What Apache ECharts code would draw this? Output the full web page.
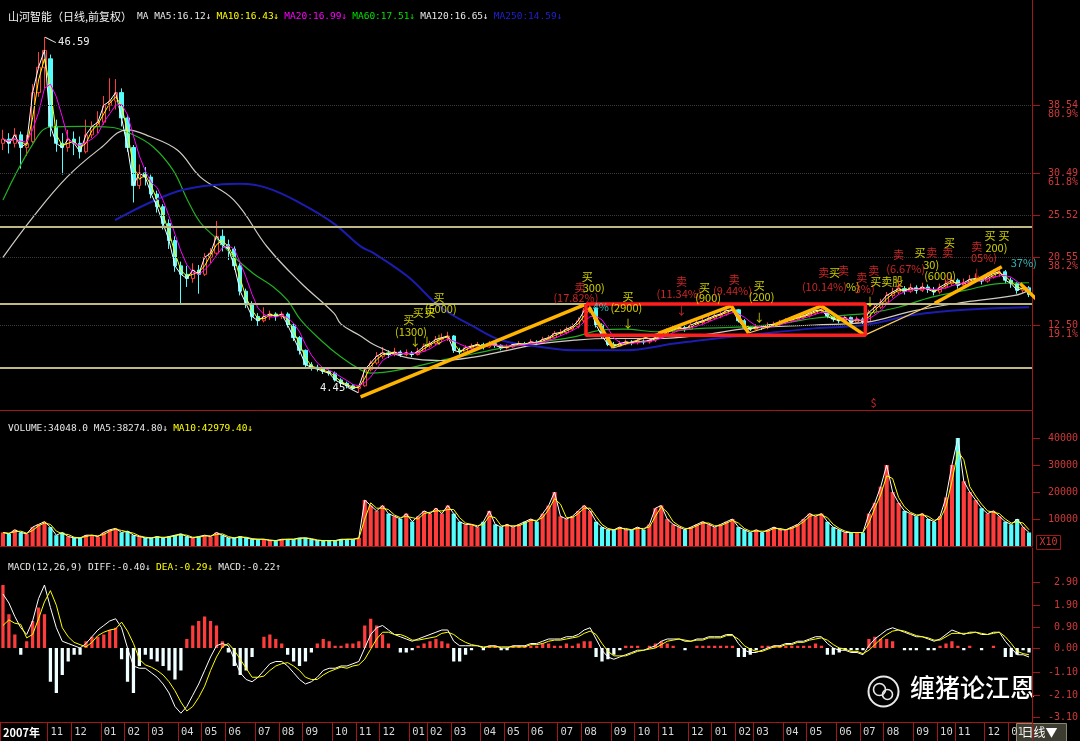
<!DOCTYPE html>
<html>
<head>
<meta charset="utf-8">
<title>山河智能 日线</title>
<script src="https://cdn.jsdelivr.net/npm/echarts@6.0.0/dist/echarts.min.js"></script>
<style>
  html, body { margin: 0; padding: 0; background: #000; }
  #chart { width: 1080px; height: 741px; }
</style>
</head>
<body>
<div id="chart"></div>
<script>
// one candle per trading week (Monday of the week)
const weeks = [
  '2007-09-03','2007-09-10','2007-09-17','2007-09-24',
  '2007-10-08','2007-10-15','2007-10-22','2007-10-29',
  '2007-11-05','2007-11-12','2007-11-19','2007-11-26',
  '2007-12-03','2007-12-10','2007-12-17','2007-12-24','2007-12-31',
  '2008-01-07','2008-01-14','2008-01-21','2008-01-28',
  '2008-02-04','2008-02-11','2008-02-18','2008-02-25',
  '2008-03-03','2008-03-10','2008-03-17','2008-03-24','2008-03-31',
  '2008-04-07','2008-04-14','2008-04-21','2008-04-28',
  '2008-05-05','2008-05-12','2008-05-19','2008-05-26',
  '2008-06-02','2008-06-09','2008-06-16','2008-06-23','2008-06-30',
  '2008-07-07','2008-07-14','2008-07-21','2008-07-28',
  '2008-08-04','2008-08-11','2008-08-18','2008-08-25',
  '2008-09-01','2008-09-08','2008-09-15','2008-09-22','2008-09-29',
  '2008-10-06','2008-10-13','2008-10-20','2008-10-27',
  '2008-11-03','2008-11-10','2008-11-17','2008-11-24',
  '2008-12-01','2008-12-08','2008-12-15','2008-12-22','2008-12-29',
  '2009-01-05','2009-01-12','2009-01-19',
  '2009-02-02','2009-02-09','2009-02-16','2009-02-23',
  '2009-03-02','2009-03-09','2009-03-16','2009-03-23','2009-03-30',
  '2009-04-06','2009-04-13','2009-04-20','2009-04-27',
  '2009-05-04','2009-05-11','2009-05-18','2009-05-25',
  '2009-06-01','2009-06-08','2009-06-15','2009-06-22','2009-06-29',
  '2009-07-06','2009-07-13','2009-07-20','2009-07-27',
  '2009-08-03','2009-08-10','2009-08-17','2009-08-24','2009-08-31',
  '2009-09-07','2009-09-14','2009-09-21','2009-09-28',
  '2009-10-05','2009-10-12','2009-10-19','2009-10-26',
  '2009-11-02','2009-11-09','2009-11-16','2009-11-23','2009-11-30',
  '2009-12-07','2009-12-14','2009-12-21','2009-12-28',
  '2010-01-04','2010-01-11','2010-01-18','2010-01-25',
  '2010-02-01','2010-02-08','2010-02-22',
  '2010-03-01','2010-03-08','2010-03-15','2010-03-22','2010-03-29',
  '2010-04-05','2010-04-12','2010-04-19','2010-04-26',
  '2010-05-03','2010-05-10','2010-05-17','2010-05-24','2010-05-31',
  '2010-06-07','2010-06-14','2010-06-21','2010-06-28',
  '2010-07-05','2010-07-12','2010-07-19','2010-07-26',
  '2010-08-02','2010-08-09','2010-08-16','2010-08-23','2010-08-30',
  '2010-09-06','2010-09-13','2010-09-20','2010-09-27',
  '2010-10-11','2010-10-18','2010-10-25',
  '2010-11-01','2010-11-08','2010-11-15','2010-11-22','2010-11-29',
  '2010-12-06','2010-12-13','2010-12-20','2010-12-27',
  '2011-01-03','2011-01-10','2011-01-17','2011-01-24'
]

// [open, close, low, high]
const ohlc = [
  [34.0,34.5,33.2,35.6],[34.5,34.0,32.8,35.2],[34.0,35.0,33.5,35.8],[35.0,33.5,31.0,35.4],
  [33.5,34.0,32.5,35.0],[34.2,40.0,34.0,41.0],[40.0,43.0,39.5,44.8],[43.0,45.0,40.5,46.59],
  [44.0,36.0,34.8,44.5],[36.0,34.0,33.0,36.8],[34.0,33.5,30.3,35.2],[33.5,34.5,33.0,35.6],
  [34.5,34.0,32.6,35.4],[34.0,33.0,32.2,34.8],[33.0,35.0,32.8,36.8],[35.0,36.0,34.6,36.6],
  [36.0,36.5,35.2,37.8],[36.5,38.5,36.2,39.6],[38.5,39.0,37.8,41.7],[39.0,40.0,38.0,41.6],
  [40.0,37.0,36.0,40.5],[37.0,33.5,33.0,37.4],[33.5,29.0,27.0,33.8],[29.0,30.5,28.6,31.5],
  [30.5,30.0,29.0,31.2],[30.0,28.0,27.5,30.3],[28.0,26.5,25.8,28.4],[26.5,24.5,23.8,26.8],
  [24.5,22.5,21.5,25.0],[22.5,19.5,18.8,23.0],[19.5,18.5,15.1,20.0],[18.5,18.0,17.0,19.5],
  [18.0,19.0,17.5,19.8],[19.0,18.5,16.2,19.6],[18.5,20.5,18.3,21.0],[20.5,21.0,19.8,21.6],
  [21.0,23.0,20.8,24.8],[23.0,22.0,21.2,23.8],[22.0,21.5,20.2,22.6],[21.5,19.5,19.0,21.8],
  [19.5,16.5,16.0,19.8],[16.5,15.0,14.5,16.8],[15.0,13.5,13.0,15.3],[13.5,13.0,12.4,13.9],
  [13.0,13.5,12.8,14.6],[13.5,13.8,13.1,14.2],[13.8,13.5,13.0,14.0],[13.5,13.8,13.2,14.1],
  [13.8,12.5,12.2,14.0],[12.5,11.0,10.6,12.7],[11.0,9.5,9.0,11.2],[9.5,7.8,7.5,9.6],
  [7.8,7.5,7.1,8.1],[7.5,7.3,7.0,7.8],[7.3,7.0,6.7,7.5],[7.0,6.8,6.5,7.2],
  [6.8,6.0,5.8,7.0],[6.0,5.6,5.3,6.2],[5.6,5.3,5.0,5.8],[5.3,5.0,4.8,5.5],
  [5.0,5.2,4.45,5.4],[5.3,7.2,5.2,7.4],[7.2,8.0,7.0,8.3],[8.0,8.8,7.8,9.3],
  [8.8,9.2,8.5,9.9],[9.2,9.0,8.6,9.5],[9.0,9.3,8.8,9.8],[9.3,9.0,8.7,9.5],
  [9.0,9.2,8.8,9.6],[9.2,9.0,8.7,9.4],[9.0,9.4,8.9,9.8],[9.4,10.0,9.3,10.3],
  [10.0,10.3,9.8,10.6],[10.3,10.8,10.1,11.2],[10.8,11.0,10.5,11.5],[11.0,11.2,10.6,11.7],
  [11.2,9.5,9.2,11.3],[9.5,9.3,9.0,9.8],[9.3,9.8,9.2,10.1],[9.8,10.0,9.6,10.3],
  [10.0,10.2,9.8,10.5],[10.2,9.9,9.6,10.4],[9.9,10.3,9.8,10.6],[10.3,10.1,9.8,10.5],
  [10.1,9.8,9.5,10.2],[9.8,9.9,9.6,10.2],[9.9,10.2,9.8,10.5],[10.2,10.3,10.0,10.6],
  [10.3,10.2,9.9,10.5],[10.2,10.5,10.1,10.8],[10.5,10.4,10.1,10.7],[10.4,10.8,10.3,11.1],
  [10.8,11.0,10.6,11.3],[11.0,11.5,10.9,11.8],[11.5,11.6,11.2,12.0],[11.6,12.0,11.4,12.3],
  [12.0,12.3,11.8,12.7],[12.3,13.0,12.1,13.4],[13.0,14.2,12.8,14.5],[14.2,14.5,13.9,15.0],
  [14.5,12.5,12.2,14.6],[12.5,11.2,10.9,12.7],[11.2,10.2,10.0,11.4],[10.2,10.0,9.8,10.5],
  [10.0,10.3,9.9,10.6],[10.3,10.5,10.1,10.8],[10.5,10.4,10.1,10.7],[10.4,10.6,10.2,10.9],
  [10.6,10.5,10.2,10.8],[10.5,10.7,10.3,11.0],[10.7,11.0,10.5,11.3],[11.0,11.5,10.9,11.8],
  [11.5,11.8,11.3,12.1],[11.8,12.0,11.6,12.4],[12.0,12.2,11.8,12.6],[12.2,12.0,11.7,12.4],
  [12.0,12.5,11.9,12.8],[12.5,12.8,12.3,13.1],[12.8,13.0,12.6,13.4],[13.0,13.3,12.8,13.6],
  [13.3,13.6,13.1,13.9],[13.6,13.8,13.3,14.1],[13.8,14.2,13.6,14.5],[14.2,14.3,13.9,14.7],
  [14.3,13.0,12.8,14.4],[13.0,12.2,11.9,13.2],[12.2,12.0,11.8,12.4],[12.0,12.3,11.9,12.6],
  [12.3,12.2,11.9,12.5],[12.2,12.5,12.0,12.8],[12.5,12.6,12.3,12.9],[12.6,12.8,12.4,13.1],
  [12.8,13.0,12.6,13.3],[13.0,13.2,12.8,13.5],[13.2,13.4,13.0,13.7],[13.4,13.6,13.2,13.9],
  [13.6,13.9,13.4,14.2],[13.9,14.2,13.7,14.5],[14.2,14.3,13.9,14.8],[14.3,13.5,13.3,14.5],
  [13.5,13.2,12.9,13.7],[13.2,13.0,12.7,13.4],[13.0,13.4,12.9,13.7],[13.4,12.8,12.5,13.5],
  [12.8,13.2,12.7,13.5],[13.2,12.9,12.6,13.4],[12.9,14.0,12.8,14.3],[14.0,14.6,13.8,14.9],
  [14.6,15.2,14.4,15.6],[15.2,16.0,15.0,16.4],[16.0,16.4,15.7,16.9],[16.4,16.8,16.1,17.3],
  [16.8,16.5,16.1,17.1],[16.5,16.9,16.3,17.4],[16.9,16.6,16.2,17.2],[16.6,17.0,16.4,17.5],
  [17.0,16.7,16.3,17.3],[16.7,16.4,16.0,17.0],[16.4,17.0,16.2,17.4],[17.0,17.4,16.8,17.9],
  [17.4,17.8,17.1,18.3],[17.8,17.2,16.8,18.0],[17.2,17.5,16.9,18.0],[17.5,17.9,17.2,18.4],
  [17.9,18.0,17.5,18.6],[18.0,17.7,17.3,18.3],[17.7,18.2,17.5,18.7],[18.2,18.6,18.0,19.1],
  [18.6,18.8,18.2,19.4],[18.8,17.8,17.4,19.0],[17.8,17.4,16.9,18.1],[17.4,16.6,16.2,17.6],
  [16.6,16.9,16.3,17.3],[16.9,16.1,15.8,17.1]
]

// daily volume level of each week (hands)
const volumes = [
  5000,4500,6000,5000,4500,7000,8000,9000,7000,4000,
  5000,3500,3000,3000,4000,4000,3500,5000,6000,6500,
  5000,5500,4000,3500,3000,3000,3500,3000,3500,4000,
  4500,3500,3000,3500,4000,3500,5000,4000,3000,3000,
  3500,3000,2500,2500,2500,2000,2000,2500,2500,2500,
  3000,3000,2500,2000,2000,2000,2000,2500,2500,2500,
  3000,17000,15000,13000,15000,12000,11000,10000,12000,9000,
  11000,13000,12000,14000,12000,15000,12000,9000,8000,8000,
  7000,9000,13000,8000,7000,8000,7000,8000,9000,10000,
  9000,12000,15000,20000,11000,10000,11000,13000,15000,13000,
  9000,7000,6000,6000,7000,6000,6000,7000,6000,8000,
  14000,15000,10000,8000,7000,6000,7000,8000,9000,8000,
  7000,8000,9000,10000,7000,6000,5000,6000,5000,6000,
  7000,6000,6000,7000,8000,10000,12000,11000,12000,9000,
  7000,6000,5000,5000,5000,5000,12000,16000,22000,30000,
  20000,16000,13000,12000,11000,12000,10000,9000,11000,18000,
  30000,40000,24000,20000,17000,14000,12000,13000,11000,9000,
  8000,10000,7000,5000
]

const diff = [
  2.4,2.0,1.4,0.9,0.6,1.2,2.2,2.8,1.8,0.9,
  0.3,0.2,0.1,0.0,0.2,0.5,0.8,1.0,1.2,1.3,
  0.9,0.0,-0.8,-0.9,-0.9,-1.1,-1.3,-1.6,-2.0,-2.6,
  -2.9,-2.6,-2.1,-1.6,-1.0,-0.4,0.1,0.2,0.1,-0.5,
  -1.1,-1.4,-1.5,-1.3,-1.0,-0.7,-0.6,-0.6,-0.8,-1.1,
  -1.4,-1.6,-1.5,-1.3,-1.0,-0.9,-0.9,-0.8,-0.8,-0.7,
  -0.6,0.0,0.6,0.9,1.0,0.8,0.6,0.5,0.4,0.3,
  0.4,0.5,0.6,0.7,0.8,0.8,0.3,0.1,0.1,0.1,
  0.1,0.0,0.1,0.1,0.0,0.0,0.1,0.1,0.1,0.2,
  0.2,0.3,0.4,0.4,0.4,0.5,0.5,0.6,0.8,0.9,
  0.4,-0.1,-0.4,-0.5,-0.4,-0.3,-0.2,-0.1,-0.1,0.0,
  0.1,0.3,0.4,0.4,0.4,0.3,0.3,0.4,0.4,0.5,
  0.5,0.5,0.6,0.6,0.2,-0.1,-0.2,-0.2,-0.1,0.0,
  0.1,0.1,0.2,0.2,0.3,0.3,0.4,0.5,0.5,0.2,
  0.0,-0.1,-0.1,-0.2,-0.2,-0.3,0.1,0.4,0.6,0.8,
  0.9,0.8,0.7,0.6,0.5,0.5,0.4,0.3,0.4,0.6,
  0.8,0.7,0.6,0.7,0.7,0.6,0.6,0.7,0.7,0.3,
  0.0,-0.3,-0.3,-0.4
]

const macdBars = [
  2.8,1.5,0.6,-0.3,0.3,1.2,1.8,1.5,-1.5,-2.0,
  -1.2,-0.6,-0.3,-0.3,0.3,0.5,0.5,0.6,0.8,0.9,
  -0.5,-1.5,-2.0,-0.8,-0.3,-0.5,-0.6,-0.8,-1.0,-1.4,
  -1.0,0.4,1.0,1.2,1.4,1.2,1.0,0.3,-0.2,-0.8,
  -1.2,-1.0,-0.4,0.0,0.5,0.6,0.4,0.2,-0.3,-0.6,
  -0.8,-0.6,-0.2,0.2,0.4,0.3,0.1,0.1,0.2,0.2,
  0.3,1.0,1.3,1.0,0.6,0.2,0.0,-0.2,-0.2,-0.1,
  0.1,0.2,0.3,0.4,0.3,0.2,-0.6,-0.6,-0.3,-0.1,
  0.0,-0.1,0.1,0.1,-0.1,-0.1,0.1,0.1,0.1,0.1,
  0.1,0.2,0.2,0.1,0.1,0.2,0.1,0.2,0.3,0.3,
  -0.4,-0.6,-0.5,-0.3,-0.1,0.1,0.1,0.1,0.0,0.1,
  0.2,0.3,0.2,0.1,0.0,-0.1,0.0,0.1,0.1,0.1,
  0.1,0.1,0.1,0.1,-0.4,-0.4,-0.3,-0.1,0.1,0.1,
  0.1,0.1,0.1,0.1,0.1,0.1,0.1,0.2,0.1,-0.3,
  -0.3,-0.2,-0.1,-0.1,-0.1,-0.1,0.4,0.5,0.4,0.4,
  0.3,0.0,-0.1,-0.1,-0.1,0.0,-0.1,-0.1,0.1,0.2,
  0.3,0.1,-0.1,0.1,0.0,-0.1,0.0,0.1,0.0,-0.4,
  -0.4,-0.3,-0.1,-0.2
]

// long moving averages: [week position, price]
const ma60Points = [
  [0,27.3],[5.1,34.0],[7.9,35.9],[13.5,36.0],[18.1,35.9],[22,35.0],[25.3,33.6],[28.7,30.8],
  [31.1,27.3],[33.3,24.6],[36.2,22.6],[38.9,20.6],[42.2,18.6],[45.6,17.0],[48,15.4],[50.2,13.1],
  [53.6,10.7],[57,8.7],[60.3,7.2],[62,6.8],[68.3,7.4],[73.8,8.3],[79.4,9.1],[85.1,9.9],
  [90.7,10.5],[96.3,11.1],[100.9,11.9],[104.7,12.0],[110.5,11.7],[117.7,12.1],[125.7,12.3],
  [131.3,12.7],[136.8,13.3],[142.6,13.7],[146,13.9],[151,14.6],[156.6,15.8],[162.2,16.6],
  [167.9,17.4],[173,17.5]
]
const ma120Points = [
  [0,20.5],[5.1,25.3],[10.8,30.0],[16.4,33.4],[21,35.6],[24.8,34.8],[29.4,33.2],[33.3,30.0],
  [38.9,27.3],[44.6,21.7],[50.2,17.5],[55.8,13.9],[57,12.6],[60.3,11.2],[62.5,10.2],[68.3,8.6],
  [73.8,8.3],[79.4,8.7],[85.1,9.5],[90.7,10.3],[96.3,10.7],[102,10.9],[110.5,10.9],[117.7,11.3],
  [125.7,12.1],[136.8,12.5],[145.3,12.8],[153.7,14.2],[162.2,15.2],[170.6,16.0],[173,16.6]
]
const ma250Points = [
  [18.9,24.9],[24.8,27.0],[30.4,28.5],[36.2,29.1],[40,29.2],[44.6,28.7],[50.2,26.9],[55.8,24.5],
  [60.3,21.8],[62.5,21.0],[68.3,18.2],[73.8,14.6],[79.4,12.3],[84,10.7],[90.7,9.9],[96.3,9.5],
  [104.7,9.5],[113.2,10.3],[117.7,10.7],[125.7,11.3],[136.8,12.1],[145.3,12.5],[153.7,13.7],
  [162.2,14.3],[173,14.6]
]

const goldenLevels = [38.54, 30.49, 25.52, 20.55, 12.50]
const goldenPercents = ['80.9%', '61.8%', '', '38.2%', '19.1%']
const supportLevels = [24.1, 14.98, 7.41]
const volumeTicks = [10000, 20000, 30000, 40000]
const macdTicks = [2.9, 1.9, 0.9, 0, -1.1, -2.1, -3.1]

const thickSegments = [
  [[60.3,3.98],[98.0,14.87]],
  [[98.8,14.6],[102.9,9.78]],
  [[110.5,11.5],[122.8,14.75]],
  [[122.8,14.75],[125.7,11.55]],
  [[130.1,12.5],[138.0,14.75]],
  [[138.0,14.75],[145.3,11.3]],
  [[157.1,15.07],[168.4,19.4]],
  [[171.5,17.4],[175.2,14.9]]
]
const thinSegments = [
  [[102.9,9.78],[110.5,11.5]],
  [[125.7,11.55],[130.1,12.5]],
  [[145.3,11.3],[157.1,15.07]]
]
const boxCorners = [[98.3,14.98],[145.4,14.98],[145.4,11.3],[98.3,11.3],[98.3,14.98]]

const Y = '#ffff00', R = '#ff3030', C = '#40e0e0'
const notes = [
  [73.5,15.7,'买',Y],[73.8,14.4,'(5000)',Y],[70.0,14.0,'买',Y],[72.0,13.9,'买',Y],
  [68.4,13.1,'买',Y],[68.8,11.7,'(1300)',Y],[69.5,10.5,'↓',Y],[71.5,10.5,'↓',Y],[73.5,10.7,'↓',Y],
  [98.5,18.2,'买',Y],[97.3,16.9,'卖',R],[99.6,16.9,'300)',Y],[96.6,15.7,'(17.82%)',R],
  [100.8,14.6,'4%',C],[105.4,15.8,'买',Y],[105.1,14.5,'(2900)',Y],[105.4,12.6,'↓',Y],
  [114.4,17.6,'卖',R],[114.0,16.2,'(11.34%)',R],[114.4,14.2,'↓',R],
  [118.3,16.9,'买',Y],[118.9,15.7,'(900)',Y],[123.3,17.8,'卖',R],[123.0,16.5,'(9.44%)',R],
  [127.5,17.1,'买',Y],[127.9,15.8,'(200)',Y],[127.5,13.4,'↓',Y],
  [138.4,18.7,'卖',R],[140.2,18.7,'买',Y],[141.7,18.9,'卖',R],[144.8,18.1,'卖',R],
  [138.5,17.0,'(10.14%)',R],[143.3,17.0,'%)',Y],[145.3,16.8,'3%)',R],[146.8,18.9,'卖',R],
  [149.0,17.6,'买卖股',Y],[146.2,15.2,'↓',Y],[151.0,20.8,'卖',R],[152.2,19.2,'(6.67%)',R],
  [154.6,21.0,'买',Y],[156.6,21.0,'卖',R],[159.3,21.0,'卖',R],[159.6,22.2,'买',Y],
  [156.5,19.6,'30)',Y],[158.0,18.3,'(6000)',Y],[164.2,21.8,'卖',R],[165.4,20.5,'05%)',R],
  [166.4,23.0,'买',Y],[168.8,23.0,'买',Y],[167.5,21.6,'200)',Y],[172.1,19.9,'37%)',C],
  [151.0,17.4,'↓',R],[159.3,18.0,'↓',R],[164.2,18.6,'↓',R],[146.8,3.3,'$',R]
]

const maHeader = '{c|山河智能（日线,前复权）} {w|MA MA5:16.12↓} {y|MA10:16.43↓} {m|MA20:16.99↓} {g|MA60:17.51↓} {w|MA120:16.65↓} {b|MA250:14.59↓}'
const volHeader = '{w|VOLUME:34048.0 MA5:38274.80↓} {y|MA10:42979.40↓}'
const macdHeader = '{w|MACD(12,26,9) DIFF:-0.40↓} {y|DEA:-0.29↓} {w|MACD:-0.22↑}'

const MONO = '"DejaVu Sans Mono", monospace'
const CJK = '"Noto Sans CJK SC", "DejaVu Sans Mono", sans-serif'
const FRAME = '#a01818'
const AXIS_TEXT = '#d03a3a'
const UP = '#ff3c3c'
const DOWN = '#54fcfc'

function movingAverage(values, n) {
  return values.map((_, i) => {
    const start = Math.max(0, i - n + 1)
    let sum = 0
    for (let k = start; k <= i; k++) sum += values[k]
    return +(sum / (i - start + 1)).toFixed(3)
  })
}

const closes = ohlc.map(d => d[1])
const dea = diff.map((d, i) => +(d - macdBars[i] / 2).toFixed(3))

function monthKey(i) {
  return weeks[i].slice(0, 7)
}
function isMonthStart(i) {
  if (i === 0) return true
  return monthKey(i) !== monthKey(i - 1) && monthKey(i) !== '2007-10'
}
function monthLabel(value, index) {
  return index === 0 ? '{y|2007年}' : value.slice(5, 7)
}

function headerStyle(color, font, size) {
  return { color: color, fontFamily: font, fontSize: size, fontWeight: 'normal' }
}
const rich = {
  c: headerStyle('#f0f0f0', CJK, 11),
  w: headerStyle('#e8e8e8', MONO, 9.5),
  y: headerStyle('#ffff00', MONO, 9.5),
  m: headerStyle('#ff00ff', MONO, 9.5),
  g: headerStyle('#00e000', MONO, 9.5),
  b: headerStyle('#2020d0', MONO, 9.5)
}

function segmentSeries(points, color, width) {
  return {
    type: 'line',
    xAxisIndex: 3,
    yAxisIndex: 0,
    data: points,
    symbol: 'none',
    clip: false,
    silent: true,
    z: 6,
    lineStyle: { color: color, width: width }
  }
}

function smoothMa(points, color, width) {
  return {
    type: 'line',
    xAxisIndex: 3,
    yAxisIndex: 0,
    data: points,
    smooth: 0.4,
    symbol: 'none',
    silent: true,
    z: 3,
    lineStyle: { color: color, width: width }
  }
}

function shortMa(values, n, color, xi, yi) {
  return {
    type: 'line',
    xAxisIndex: xi,
    yAxisIndex: yi,
    data: movingAverage(values, n),
    symbol: 'none',
    silent: true,
    z: 4,
    lineStyle: { color: color, width: 1 }
  }
}

const chart = echarts.init(document.getElementById('chart'))

const option = {
  backgroundColor: '#000',
  animation: false,
  title: [
    { left: 3, top: 3, text: maHeader, textStyle: { fontWeight: 'normal', rich: rich } },
    { left: 3, top: 415, text: volHeader, textStyle: { fontWeight: 'normal', rich: rich } },
    { left: 3, top: 554, text: macdHeader, textStyle: { fontWeight: 'normal', rich: rich } }
  ],
  grid: [
    { left: 0, right: 48, top: 0, height: 410, containLabel: false, outerBoundsMode: 'none' },
    { left: 0, right: 48, top: 411, height: 135, containLabel: false, outerBoundsMode: 'none' },
    { left: 0, right: 48, top: 548, height: 174, containLabel: false, outerBoundsMode: 'none' }
  ],
  xAxis: [
    {
      type: 'category', gridIndex: 0, data: weeks, boundaryGap: true,
      axisLine: { onZero: false, lineStyle: { color: FRAME } },
      axisTick: { show: false }, axisLabel: { show: false }, splitLine: { show: false }
    },
    {
      type: 'category', gridIndex: 1, data: weeks, boundaryGap: true,
      axisLine: { onZero: false, lineStyle: { color: FRAME } },
      axisTick: { show: false }, axisLabel: { show: false }, splitLine: { show: false }
    },
    {
      type: 'category', gridIndex: 2, data: weeks, boundaryGap: true,
      axisLine: { onZero: false, lineStyle: { color: FRAME } },
      axisTick: { show: true, interval: isMonthStart, length: 19, lineStyle: { color: FRAME } },
      axisLabel: {
        interval: isMonthStart,
        formatter: monthLabel,
        align: 'left',
        margin: 5,
        color: '#d8d8d8',
        fontFamily: MONO,
        fontSize: 10.5,
        rich: { y: { color: '#ffffff', fontFamily: CJK, fontSize: 11, fontWeight: 'bold' } }
      },
      splitLine: { show: false }
    },
    { type: 'value', gridIndex: 0, min: -0.5, max: 173.5, show: false }
  ],
  yAxis: [
    {
      type: 'value', gridIndex: 0, position: 'right', min: 2.44, max: 50.96,
      axisLine: { show: true, onZero: false, lineStyle: { color: FRAME } },
      axisTick: { show: true, customValues: goldenLevels, length: 8, lineStyle: { color: FRAME } },
      axisLabel: {
        customValues: goldenLevels,
        formatter: v => v.toFixed(2),
        align: 'right', margin: 46,
        color: AXIS_TEXT, fontFamily: MONO, fontSize: 10
      },
      splitLine: { show: false }
    },
    {
      type: 'value', gridIndex: 1, position: 'right', min: 0, max: 50000,
      axisLine: { show: true, onZero: false, lineStyle: { color: FRAME } },
      axisTick: { show: true, customValues: volumeTicks, length: 8, lineStyle: { color: FRAME } },
      axisLabel: {
        customValues: volumeTicks,
        formatter: v => String(v),
        align: 'right', margin: 46,
        color: AXIS_TEXT, fontFamily: MONO, fontSize: 10
      },
      splitLine: { show: false }
    },
    {
      type: 'value', gridIndex: 2, position: 'right', min: -3.289, max: 4.444,
      axisLine: { show: true, onZero: false, lineStyle: { color: FRAME } },
      axisTick: { show: true, customValues: macdTicks, length: 8, lineStyle: { color: FRAME } },
      axisLabel: {
        customValues: macdTicks,
        formatter: v => v.toFixed(2),
        align: 'right', margin: 46,
        color: AXIS_TEXT, fontFamily: MONO, fontSize: 10
      },
      splitLine: { show: false }
    },
    {
      type: 'value', gridIndex: 0, position: 'right', min: 2.44, max: 50.96,
      axisLine: { show: false, onZero: false }, axisTick: { show: false },
      axisLabel: {
        customValues: goldenLevels.filter((v, i) => goldenPercents[i]),
        formatter: v => goldenPercents[goldenLevels.findIndex(g => Math.abs(g - v) < 0.001)],
        align: 'right', margin: 46, verticalAlign: 'top', padding: [4, 0, 0, 0],
        color: AXIS_TEXT, fontFamily: MONO, fontSize: 10
      },
      splitLine: { show: false }
    }
  ],
  series: [
    {
      name: 'K',
      type: 'candlestick',
      xAxisIndex: 0,
      yAxisIndex: 0,
      data: ohlc,
      barWidth: '62%',
      z: 2,
      itemStyle: { color: '#000', color0: DOWN, borderColor: UP, borderColor0: DOWN, borderWidth: 1 },
      markLine: {
        silent: true,
        symbol: 'none',
        label: { show: false },
        data: goldenLevels.map(v => ({ yAxis: v, lineStyle: { color: '#3a3a3a', type: 'dotted', width: 1 } }))
          .concat(supportLevels.map(v => ({ yAxis: v, lineStyle: { color: '#bdb884', type: 'solid', width: 2 } })))
      },
      markPoint: {
        silent: true,
        symbol: 'rect',
        symbolSize: [12, 1],
        symbolRotate: -27,
        itemStyle: { color: '#e0e0e0' },
        data: [
          {
            type: 'max', valueDim: 'highest', symbolOffset: [6, 3],
            label: { show: true, position: 'right', distance: 2, offset: [0, 2], color: '#f0f0f0', fontFamily: MONO, fontSize: 10.5, formatter: p => p.value.toFixed(2) }
          },
          {
            type: 'min', valueDim: 'lowest', symbolOffset: [-6, -3],
            label: { show: true, position: 'left', distance: 2, offset: [0, -2], color: '#f0f0f0', fontFamily: MONO, fontSize: 10.5, formatter: p => p.value.toFixed(2) }
          }
        ]
      }
    },
    shortMa(closes, 1, '#ffffff', 0, 0),
    shortMa(closes, 2, '#ffff00', 0, 0),
    shortMa(closes, 4, '#ff00ff', 0, 0),
    smoothMa(ma60Points, '#20b020', 1.2),
    smoothMa(ma120Points, '#d0ccc4', 1.2),
    smoothMa(ma250Points, '#1c1cb0', 2),
    ...thickSegments.map(s => segmentSeries(s, '#ffb400', 3.5)),
    ...thinSegments.map(s => segmentSeries(s, '#ffd060', 1.2)),
    segmentSeries(boxCorners, '#ff1e1e', 3.5),
    {
      type: 'scatter',
      xAxisIndex: 3,
      yAxisIndex: 0,
      symbolSize: 0,
      silent: true,
      clip: false,
      z: 8,
      data: notes.map(n => ({ name: n[2], value: [n[0], n[1]], label: { color: n[3] } })),
      label: { show: true, position: 'inside', formatter: '{b}', fontFamily: CJK, fontSize: 11 }
    },
    {
      type: 'bar',
      xAxisIndex: 1,
      yAxisIndex: 1,
      barWidth: '70%',
      z: 2,
      data: volumes.map((v, i) => ({
        value: v,
        itemStyle: { color: ohlc[i][1] >= ohlc[i][0] ? UP : DOWN }
      }))
    },
    shortMa(volumes, 1, '#ffffff', 1, 1),
    shortMa(volumes, 2, '#ffff00', 1, 1),
    {
      type: 'bar',
      xAxisIndex: 2,
      yAxisIndex: 2,
      barWidth: '55%',
      z: 2,
      data: macdBars.map(v => ({ value: v, itemStyle: { color: v >= 0 ? UP : '#f0ffff' } }))
    },
    {
      type: 'line', xAxisIndex: 2, yAxisIndex: 2, data: diff, symbol: 'none', silent: true, z: 4,
      lineStyle: { color: '#ffffff', width: 1 }
    },
    {
      type: 'line', xAxisIndex: 2, yAxisIndex: 2, data: dea, symbol: 'none', silent: true, z: 4,
      lineStyle: { color: '#ffff00', width: 1 }
    }
  ],
  graphic: [
    {
      type: 'group', left: 1034, top: 533,
      children: [
        { type: 'rect', shape: { x: 0, y: 0, width: 24, height: 14 }, style: { fill: 'none', stroke: FRAME, lineWidth: 1 } },
        { type: 'text', x: 3, y: 2, style: { text: 'X10', fill: AXIS_TEXT, font: '10px "DejaVu Sans Mono"' } }
      ]
    },
    {
      type: 'group', left: 1016, top: 723,
      children: [
        { type: 'rect', shape: { x: 0, y: 0, width: 50, height: 18 }, style: { fill: '#3c3c30', stroke: '#8a8a6a', lineWidth: 1 } },
        { type: 'text', x: 5, y: 3, style: { text: '日线▼', fill: '#ffffff', font: '12px "Noto Sans CJK SC"' } }
      ]
    },
    {
      type: 'group', left: 866, top: 674,
      children: [
        { type: 'circle', shape: { cx: 17, cy: 16, r: 15 }, style: { fill: 'none', stroke: '#e8e8e8', lineWidth: 2 } },
        { type: 'circle', shape: { cx: 13, cy: 14, r: 6 }, style: { fill: 'none', stroke: '#e8e8e8', lineWidth: 1.6 } },
        { type: 'circle', shape: { cx: 21, cy: 19, r: 5 }, style: { fill: 'none', stroke: '#e8e8e8', lineWidth: 1.6 } }
      ]
    },
    {
      type: 'text', left: 910, top: 675,
      style: {
        text: '缠猪论江恩', fill: '#ffffff', font: '500 25px "Noto Sans CJK SC"',
        shadowColor: 'rgba(0,0,0,0.8)', shadowBlur: 3
      }
    }
  ]
}

chart.setOption(option)
</script>
</body>
</html>
